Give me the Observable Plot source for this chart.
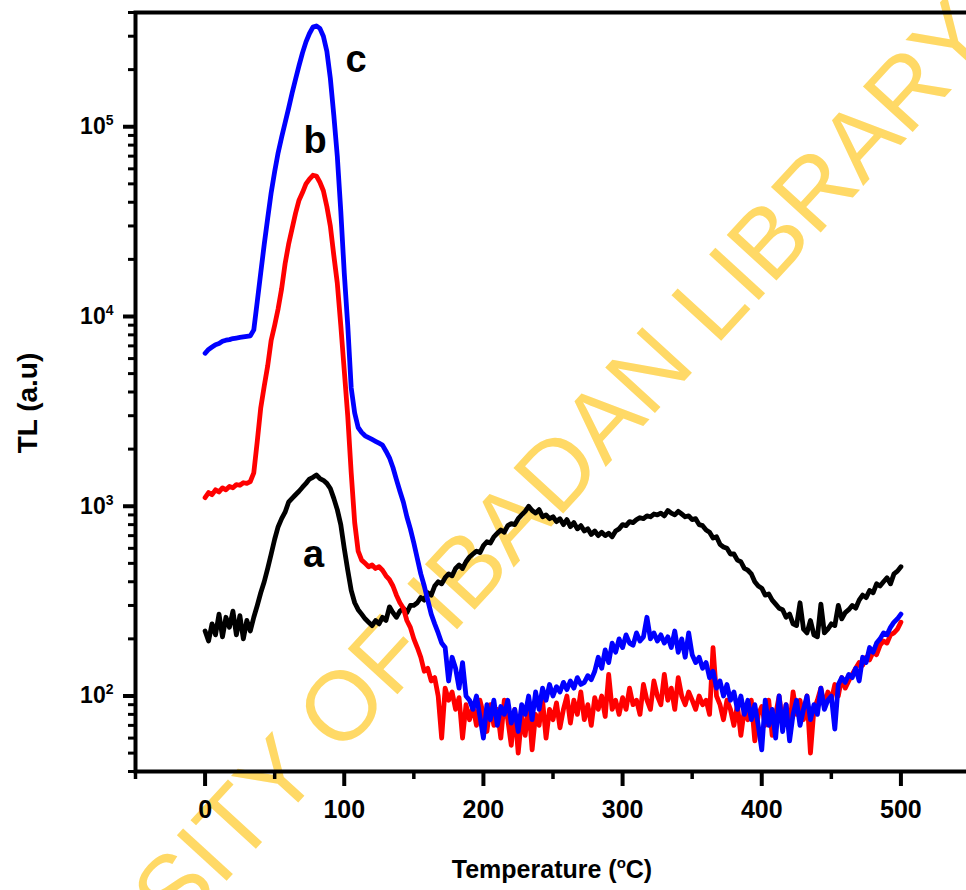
<!DOCTYPE html>
<html><head><meta charset="utf-8">
<script src="https://cdn.jsdelivr.net/npm/d3@7"></script>
<script src="https://cdn.jsdelivr.net/npm/@observablehq/plot@0.6"></script>
<style>
html,body{margin:0;padding:0;background:#fff;overflow:hidden;}
#chart{position:relative;width:966px;height:890px;overflow:hidden;}
#chart svg{max-width:none !important;width:980px;height:890px;}
</style></head><body><div id="chart"></div>
<script>
// Temperature grid (°C), one reading every 2.5 °C
const temperature = d3.range(0, 500.001, 2.5);

// a (black)
const seriesA = [
 220,195,240,210,270,205,260,230,280,210,265,200,250,220,260,300,350,400,470,560,
 670,780,860,930,1050,1100,1150,1200,1260,1320,1390,1420,1460,1400,1370,1320,1240,1100,960,800,
 600,460,360,310,285,270,255,245,235,250,240,260,250,295,275,260,280,290,275,300,
 300,310,330,320,350,340,380,400,390,420,440,430,470,490,470,510,540,560,580,570,
 620,650,640,690,720,750,730,790,810,800,860,900,940,1000,950,920,960,880,900,860,
 880,830,860,800,850,780,820,760,790,740,760,710,740,700,730,700,720,690,740,760,
 800,790,830,820,850,870,860,890,880,910,900,920,890,950,920,900,940,910,880,890,
 850,860,800,790,750,730,680,690,630,610,600,560,560,520,510,470,460,440,400,380,
 370,340,345,320,305,290,285,260,270,240,235,310,225,215,250,210,205,305,215,225,
 240,235,300,255,275,285,300,290,320,340,330,360,350,390,380,400,420,390,440,455,
 480];

// b (red)
const seriesB = [
 1110,1180,1150,1220,1190,1250,1220,1270,1250,1300,1290,1330,1320,1350,1500,2200,3300,4300,5500,7500,
 9000,11000,14000,19000,24000,29000,35000,41000,45000,50000,53000,55500,55000,51000,46000,38000,30000,21000,15000,9000,
 5200,3000,1500,820,580,520,500,480,490,470,480,460,430,410,380,340,310,290,250,230,
 200,180,160,135,140,120,125,100,60,110,95,105,85,98,60,90,75,88,70,95,
 80,65,90,70,85,60,95,75,55,85,50,78,62,90,52,80,70,95,60,85,
 75,92,68,85,100,72,95,80,105,75,90,70,98,85,100,78,130,85,95,80,
 98,85,110,90,95,80,115,95,85,120,100,90,130,95,110,85,125,100,90,105,
 95,85,100,90,95,80,180,100,90,75,95,85,70,90,62,85,75,95,58,80,
 88,70,95,62,80,100,72,90,68,105,80,95,75,100,50,85,95,110,88,105,
 95,115,100,125,110,120,130,140,150,145,160,155,170,165,185,195,190,210,215,225,
 245];

// c (blue)
const seriesC = [
 6400,6700,6900,7100,7200,7400,7500,7550,7650,7700,7750,7800,7850,7900,8500,12000,17000,24000,33000,45000,
 58000,73000,88000,105000,125000,150000,178000,210000,245000,280000,310000,335000,340000,330000,300000,250000,180000,115000,70000,36000,
 17000,9000,4200,3100,2600,2450,2350,2300,2250,2200,2150,2100,1950,1800,1600,1380,1200,1050,880,760,
 640,530,440,380,320,270,240,215,190,180,120,160,140,110,150,100,95,85,100,78,
 60,90,75,95,70,88,80,95,72,85,65,90,80,100,75,105,85,110,95,115,
 100,112,105,118,108,120,110,125,115,118,128,122,135,160,140,175,150,190,170,200,
 180,210,190,185,215,195,205,260,200,215,195,210,190,205,180,220,170,200,160,215,
 165,150,160,140,150,125,135,110,120,100,115,95,105,85,100,80,95,75,90,70,
 52,95,70,85,60,100,65,90,58,80,95,70,85,100,75,90,80,110,85,95,
 100,67,115,125,118,130,125,140,120,160,150,180,170,190,200,215,210,230,245,255,
 270];

const seriesNames = ["a", "b", "c"];
const seriesColors = ["#000000", "#ff0000", "#0000ff"];

// curve labels
const labelText = ["a", "b", "c"];
const labelTemp = [78, 79, 108.5];
const labelTL = [555, 84000, 226000];

// ticks
const xMajorTicks = [0, 100, 200, 300, 400, 500];
const xMinorTicks = [-50, 50, 150, 250, 350, 450, 550];
const yMajorTicks = [100, 1000, 10000, 100000];
const yMinorTicks = [40, 50, 60, 70, 80, 90, 200, 300, 400, 500, 600, 700, 800, 900,
  2000, 3000, 4000, 5000, 6000, 7000, 8000, 9000,
  20000, 30000, 40000, 50000, 60000, 70000, 80000, 90000, 200000, 300000, 400000];
const xDomain = [-50, 550];
const yDomain = [40, 400000];

const xTitle = ["Temperature (", "o", "C)"];
const yTitle = "TL (a.u)";
const watermark = "UNIVERSITY OF IBADAN LIBRARY";

const rows = [];
[seriesA, seriesB, seriesC].forEach((s, k) => {
  s.forEach((v, i) => rows.push({series: seriesNames[k], T: temperature[i], TL: v}));
});
const labels = labelText.map((t, i) => ({t, T: labelTemp[i], TL: labelTL[i]}));

const font = "'Liberation Sans', Arial, Helvetica, sans-serif";

const plot = Plot.plot({
  width: 980, height: 890,
  marginLeft: 135, marginRight: 10, marginTop: 12, marginBottom: 119,
  style: {fontFamily: font, background: "transparent", color: "#000", maxWidth: "none"},
  x: {domain: xDomain},
  y: {type: "log", domain: yDomain},
  color: {domain: seriesNames, range: seriesColors},
  marks: [
    Plot.line(rows, {x: "T", y: "TL", z: "series", stroke: "series", strokeWidth: 4.8, strokeLinejoin: "round", strokeLinecap: "round"}),
    Plot.text(labels, {x: "T", y: "TL", text: "t", fontSize: 38, fontWeight: "bold", fill: "#000", textAnchor: "middle"}),
    Plot.axisX({ticks: xMinorTicks, tickSize: 8, strokeWidth: 3.5, tickFormat: () => "", label: null}),
    Plot.axisX({ticks: xMajorTicks, tickSize: 15, strokeWidth: 4, tickPadding: 14, fontSize: 25, fontWeight: "bold", tickFormat: d => String(d), label: null}),
    Plot.axisY({ticks: yMinorTicks, tickSize: 7, strokeWidth: 3, tickFormat: () => "", label: null}),
    Plot.axisY({ticks: yMajorTicks, tickSize: 12, strokeWidth: 4, tickPadding: 10, fontSize: 23, fontWeight: "bold", tickFormat: d => "10^" + Math.round(Math.log10(d)), label: null}),
    Plot.frame({stroke: "#000", strokeWidth: 4})
  ]
});

const svg = d3.select(plot);
svg.style("overflow", "visible").style("max-width", "none").attr("width", 980).attr("height", 890);

// superscript exponents on y tick labels
svg.selectAll('g[aria-label="y-axis tick label"] text').each(function() {
  const s = this.textContent;
  if (!s.includes("^")) return;
  const [base, exp] = s.split("^");
  const t = d3.select(this);
  t.text("");
  t.append("tspan").text(base);
  t.append("tspan").attr("dy", "-9").attr("font-size", 14).text(exp);
});

// watermark behind everything
const wm = document.createElementNS("http://www.w3.org/2000/svg", "text");
plot.insertBefore(wm, plot.firstChild.nextSibling);
d3.select(wm)
  .attr("transform", "translate(436,600) rotate(-47.5)")
  .attr("text-anchor", "middle").attr("dy", "0.36em")
  .attr("font-family", font).attr("font-size", 98)
  .attr("fill", "#ffd966").text(watermark);

// axis titles
const xt = svg.append("text")
  .attr("x", 552).attr("y", 878).attr("text-anchor", "middle")
  .attr("font-family", font).attr("font-size", 25).attr("font-weight", "bold").attr("fill", "#000");
xt.append("tspan").text(xTitle[0]);
xt.append("tspan").attr("dy", -10).attr("font-size", 15).text(xTitle[1]);
xt.append("tspan").attr("dy", 10).text(xTitle[2]);

svg.append("text")
  .attr("transform", "translate(37,403) rotate(-90)").attr("text-anchor", "middle")
  .attr("font-family", font).attr("font-size", 28).attr("font-weight", "bold").attr("fill", "#000")
  .text(yTitle);

document.getElementById("chart").appendChild(plot);
</script></body></html>
